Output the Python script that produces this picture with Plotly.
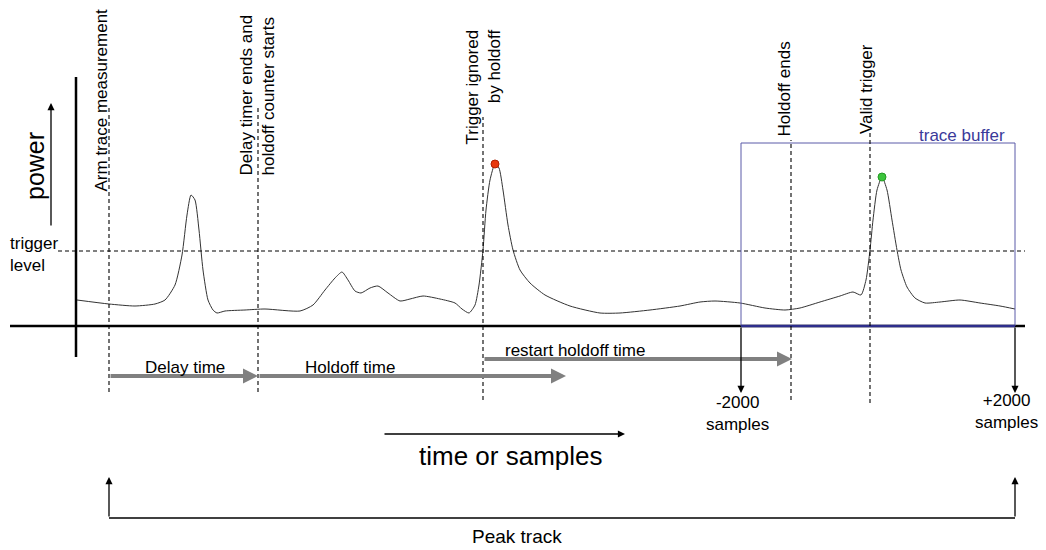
import plotly.graph_objects as go

FONT = "Liberation Sans, Arial, sans-serif"

# ---- data (time in diagram units, power relative to baseline) ----
trace_time = [77, 109, 135, 155, 165, 175, 182, 187, 191, 195, 199, 203, 208, 213, 217, 225, 245, 265,
              300, 313, 325, 335, 342, 348, 355, 361, 370, 378, 388, 400, 410, 423, 440, 455, 462, 469,
              475, 479, 483, 486, 490, 495, 499, 503, 508, 513, 520, 530, 545, 570, 600, 620, 650, 680,
              700, 715, 740, 765, 785, 800, 820, 840, 853, 861, 866, 870, 873, 877, 882, 887, 892, 897,
              901, 907, 915, 925, 940, 960, 980, 1000, 1015]
trace_power = [26, 22, 20, 22, 26, 41, 71, 111, 131, 126, 96, 56, 26, 16, 13, 15, 16, 17,
               15, 21, 36, 48, 54, 46, 35, 33, 38, 40, 33, 25, 27, 30, 27, 23, 17, 13,
               21, 41, 76, 116, 146, 162, 158, 136, 101, 76, 56, 43, 31, 20, 13, 13, 16, 20,
               24, 25, 23, 18, 16, 18, 24, 30, 34, 31, 46, 76, 106, 136, 149, 136, 106, 76,
               56, 39, 28, 23, 24, 26, 23, 20, 17]
trigger_level = 75

ignored_peak = (495, 162)
valid_peak = (882, 149)

event_time = [109, 258, 483, 791, 870]
event_top = [218, 218, 209, 186, 196]
event_bottom = [-66, -66, -74, -74, -77]
event_labels = ["Arm trace measurement",
                "Delay timer ends and<br>holdoff counter starts",
                "Trigger ignored<br>by holdoff",
                "Holdoff ends",
                "Valid trigger"]

buffer_start, buffer_end, buffer_top = 741, 1015, 183
buffer_labels = ["-2000<br>samples", "+2000<br>samples"]

# interval arrows: (start, end, level, label)
interval_start = [109, 258, 483]
interval_end = [258, 566, 792]
interval_level = [-50, -50, -33]
interval_labels = ["Delay time", "Holdoff time", "restart holdoff time"]
interval_label_pos = [185, 350, 575]

peak_track = (109, 1015)

fig = go.Figure()

# axes of the diagram
fig.add_shape(type="line", x0=10, x1=1025, y0=0, y1=0, line=dict(color="black", width=2.5))
fig.add_shape(type="line", x0=76, x1=76, y0=-31, y1=249, line=dict(color="black", width=2.5))

# trigger level
fig.add_shape(type="line", x0=58, x1=1025, y0=trigger_level, y1=trigger_level,
              line=dict(color="black", width=1, dash="4px,3px"))

# trace buffer box
fig.add_shape(type="rect", x0=buffer_start, x1=buffer_end, y0=0, y1=buffer_top,
              line=dict(color="#5a5aa8", width=1))
fig.add_shape(type="line", x0=buffer_start, x1=buffer_end, y0=0, y1=0,
              line=dict(color="#2e2e8c", width=2.5))

# event lines
for t, top, bot in zip(event_time, event_top, event_bottom):
    fig.add_shape(type="line", x0=t, x1=t, y0=bot, y1=top,
                  line=dict(color="black", width=1.1, dash="4px,3px"))

# power trace
fig.add_trace(go.Scatter(x=trace_time, y=trace_power, mode="lines",
                         line=dict(color="#333333", width=1, shape="spline", smoothing=0.6),
                         hoverinfo="skip"))
fig.add_trace(go.Scatter(x=[ignored_peak[0]], y=[ignored_peak[1]], mode="markers",
                         marker=dict(color="#e8380d", size=8, line=dict(color="#b02000", width=1)),
                         hoverinfo="skip"))
fig.add_trace(go.Scatter(x=[valid_peak[0]], y=[valid_peak[1]], mode="markers",
                         marker=dict(color="#3cc43c", size=8, line=dict(color="#249a24", width=1)),
                         hoverinfo="skip"))

def arrow(x0, y0, x1, y1, color="black", width=1.3, size=1.1):
    fig.add_annotation(x=x1, y=y1, ax=x0, ay=y0, xref="x", yref="y", axref="x", ayref="y",
                       text="", showarrow=True, arrowhead=2, arrowsize=size,
                       arrowwidth=width, arrowcolor=color, standoff=0, startstandoff=0)

def label(x, y, text, size=17, color="black", **kw):
    fig.add_annotation(x=x, y=y, xref="x", yref="y", text=text, showarrow=False,
                       font=dict(family=FONT, size=size, color=color), **kw)

# power arrow & label
arrow(51, 99, 51, 223)
label(35, 160, "power", size=25, textangle=-90)
label(8, 72, "trigger<br>level", xanchor="left", align="left")

# event labels
label(101, 132, event_labels[0], textangle=-90, yanchor="bottom")
label(257, 148, event_labels[1], textangle=-90, yanchor="bottom", align="left")
label(483, 298, event_labels[2], textangle=-90, yanchor="top", align="right")
label(784, 187, event_labels[3], textangle=-90, yanchor="bottom")
label(866, 190, event_labels[4], textangle=-90, yanchor="bottom")

label(962, 191, "trace buffer", color="#3a3a9a")

# intervals
for s, e, lv, txt, lx in zip(interval_start, interval_end, interval_level, interval_labels, interval_label_pos):
    arrow(s, lv, e, lv, color="#808080", width=4, size=0.75)
    label(lx, lv + 9, txt)

# buffer bounds
arrow(buffer_start, 0, buffer_start, -67)
arrow(buffer_end, 0, buffer_end, -67)
label(737, -87, buffer_labels[0])
label(1006, -85, buffer_labels[1])

# time axis
arrow(383, -108, 625, -108)
label(511, -130, "time or samples", size=26)

# peak track
fig.add_shape(type="line", x0=peak_track[0], x1=peak_track[1], y0=-192, y1=-192,
              line=dict(color="black", width=1.3))
arrow(peak_track[0], -192, peak_track[0], -151)
arrow(peak_track[1], -192, peak_track[1], -151)
label(517, -210, "Peak track", size=19)

fig.update_layout(width=1046, height=550, margin=dict(l=0, r=0, t=0, b=0),
                  paper_bgcolor="white", plot_bgcolor="white", showlegend=False,
                  xaxis=dict(range=[0, 1046], visible=False, fixedrange=True),
                  yaxis=dict(range=[-224, 326], visible=False, fixedrange=True))

fig.write_html("out.html", config={"displayModeBar": False},
               post_script="document.body.style.margin='0';document.body.style.overflow='hidden';")
